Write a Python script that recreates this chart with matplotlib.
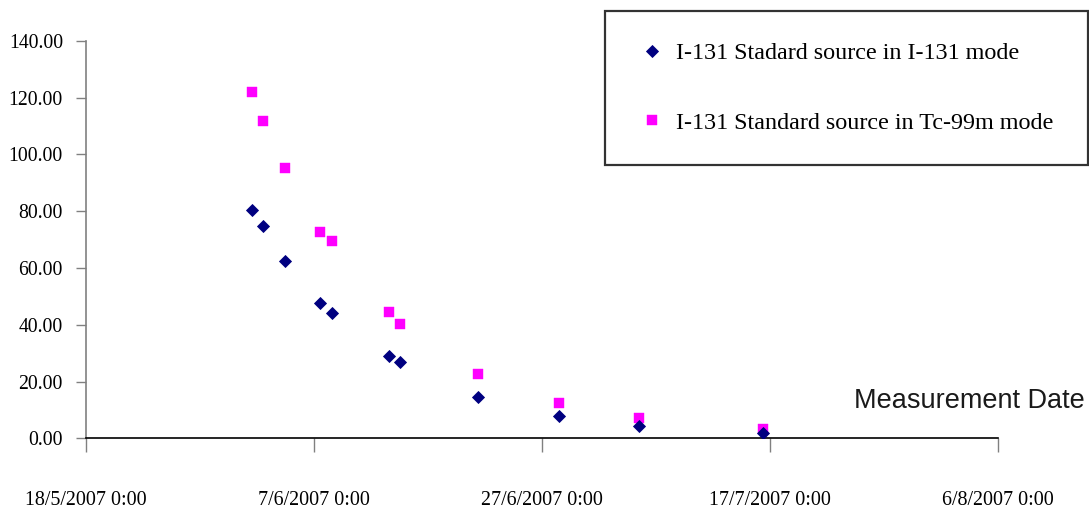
import matplotlib
matplotlib.use("Agg")
import matplotlib.pyplot as plt
import matplotlib.dates as mdates
from matplotlib.ticker import FuncFormatter, MultipleLocator
from datetime import datetime, timedelta

# Fechas de medición y actividad medida en cada modo
fechas = [
    "2007-06-01 13:00", "2007-06-02 12:00", "2007-06-04 10:00",
    "2007-06-07 13:00", "2007-06-08 13:00", "2007-06-13 13:00",
    "2007-06-14 13:00", "2007-06-21 10:00", "2007-06-28 12:00",
    "2007-07-05 12:00", "2007-07-16 10:00",
]
modo_i131 = [80.3, 74.8, 62.4, 47.8, 44.0, 29.0, 26.7, 14.5, 7.9, 4.2, 1.7]
modo_tc99m = [121.8, 111.8, 95.1, 72.7, 69.5, 44.4, 40.4, 22.5, 12.5, 7.0, 3.2]

etiqueta_i131 = "I-131 Stadard source in I-131 mode"
etiqueta_tc99m = "I-131 Standard source in Tc-99m mode"

x = [datetime.strptime(f, "%Y-%m-%d %H:%M") for f in fechas]
inicio = datetime(2007, 5, 18)
fin = datetime(2007, 8, 6)
marcas_x = [inicio + timedelta(days=20 * i) for i in range(5)]

serif = ["Liberation Serif", "DejaVu Serif"]

fig = plt.figure(figsize=(10.89, 5.11), dpi=100)
ax = fig.add_axes([86 / 1089, 1 - 438.3 / 511, 912 / 1089, 397.6 / 511])

ax.plot(x, modo_i131, linestyle="none", marker="D", markersize=5.8,
        color="#000080", markeredgewidth=0.6, label=etiqueta_i131, zorder=3)
ax.plot(x, modo_tc99m, linestyle="none", marker="s", markersize=6.8,
        color="#FF00FF", markeredgewidth=0.3, label=etiqueta_tc99m, zorder=2)

ax.set_xlim(mdates.date2num(inicio), mdates.date2num(fin))
ax.set_ylim(0, 140)
ax.set_xticks([mdates.date2num(d) for d in marcas_x])
ax.xaxis.set_major_formatter(FuncFormatter(
    lambda v, pos: "{d.day}/{d.month}/{d.year} 0:00".format(d=mdates.num2date(v))))
ax.yaxis.set_major_locator(MultipleLocator(20))
ax.yaxis.set_major_formatter(FuncFormatter(lambda v, pos: "%.2f" % v))

for s in ["top", "right"]:
    ax.spines[s].set_visible(False)
ax.spines["left"].set_color("#808080")
ax.spines["left"].set_linewidth(1.2)
ax.spines["bottom"].set_color("black")
ax.spines["bottom"].set_linewidth(1.2)

ax.tick_params(axis="y", direction="out", length=7.2, width=1.0, color="#808080", pad=9.4)
ax.tick_params(axis="x", direction="out", length=10, width=1.0, color="#808080", pad=28)
for lbl in ax.get_yticklabels():
    lbl.set_fontfamily(serif)
    lbl.set_fontsize(14.2)
for lbl in ax.get_xticklabels():
    lbl.set_fontfamily(serif)
    lbl.set_fontsize(14.4)

leg = ax.legend(loc="upper left", bbox_to_anchor=(605 / 1089, 1 - 16 / 511, 483 / 1089, 0.01),
                bbox_transform=fig.transFigure, mode="expand",
                prop={"family": serif, "size": 17.4}, frameon=True, fancybox=False,
                borderpad=1.3, labelspacing=1.97, handlelength=1.3, handletextpad=0.32,
                borderaxespad=0, numpoints=1)
leg.get_frame().set_edgecolor("black")
leg.get_frame().set_linewidth(1.6)

fig.text(1085 / 1089, 1 - 408 / 511, "Measurement Date", ha="right", va="baseline",
         fontsize=19.5, family=["Liberation Sans", "DejaVu Sans"], color="#1a1a1a")

fig.savefig("out.png", dpi=100)
